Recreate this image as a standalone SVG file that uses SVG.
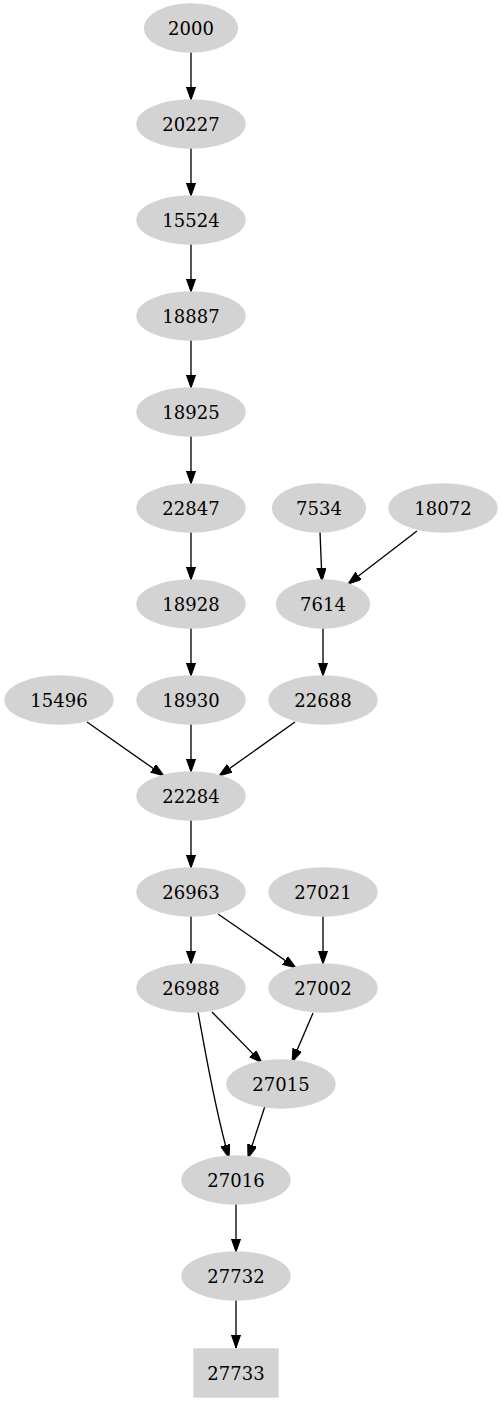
<svg xmlns="http://www.w3.org/2000/svg" width="502" height="1403" viewBox="0 0 502 1403">
<style>
.n ellipse,.n rect{fill:#d3d3d3;stroke:#d3d3d3;stroke-width:1.33}
.n text{font-family:"DejaVu Serif","Liberation Serif",serif;font-size:18px;fill:#000;text-anchor:middle}
.e path{fill:none;stroke:#000;stroke-width:1.33;marker-end:url(#ah)}
</style>
<defs>
<marker id="ah" markerUnits="userSpaceOnUse" markerWidth="14" markerHeight="10" refX="13.3" refY="4.67" orient="auto">
<path d="M0,0 L13.3,4.67 L0,9.33 z" fill="#000" stroke="#000" stroke-width="1"/>
</marker>
</defs>
<rect width="502" height="1403" fill="#fff"/>
<g id="edges" class="e">
<path d="M191,52 L191,100"/>
<path d="M191,148 L191,196"/>
<path d="M191,244 L191,292"/>
<path d="M191,340 L191,388"/>
<path d="M191,436 L191,484"/>
<path d="M191,532 L191,580"/>
<path d="M191,628 L191,676"/>
<path d="M191,724 L191,772"/>
<path d="M320,532 L322,581"/>
<path d="M417,531 L348,584"/>
<path d="M323,628 L323,676"/>
<path d="M87,722 L164,776"/>
<path d="M295,722 L219,776"/>
<path d="M191,820 L191,868"/>
<path d="M191,916 L191,964"/>
<path d="M218,914 L296,968"/>
<path d="M323,916 L323,964"/>
<path d="M212,1012 L262,1063"/>
<path d="M313,1013 L292,1062"/>
<path d="M198,1012 C205,1050 215,1110 229,1158"/>
<path d="M265,1106 L248,1158"/>
<path d="M236,1204 L236,1252"/>
<path d="M236,1300 L236,1348"/>
</g>
<g id="n2000" class="n"><ellipse cx="191" cy="28" rx="46.5" ry="24"/><text x="191" y="34.5">2000</text></g>
<g id="n20227" class="n"><ellipse cx="191" cy="124" rx="54" ry="24"/><text x="191" y="130.5">20227</text></g>
<g id="n15524" class="n"><ellipse cx="191" cy="220" rx="54" ry="24"/><text x="191" y="226.5">15524</text></g>
<g id="n18887" class="n"><ellipse cx="191" cy="316" rx="54" ry="24"/><text x="191" y="322.5">18887</text></g>
<g id="n18925" class="n"><ellipse cx="191" cy="412" rx="54" ry="24"/><text x="191" y="418.5">18925</text></g>
<g id="n22847" class="n"><ellipse cx="191" cy="508" rx="54" ry="24"/><text x="191" y="514.5">22847</text></g>
<g id="n7534" class="n"><ellipse cx="319" cy="508" rx="46.5" ry="24"/><text x="319" y="514.5">7534</text></g>
<g id="n18072" class="n"><ellipse cx="443" cy="508" rx="54" ry="24"/><text x="443" y="514.5">18072</text></g>
<g id="n18928" class="n"><ellipse cx="191" cy="604" rx="54" ry="24"/><text x="191" y="610.5">18928</text></g>
<g id="n7614" class="n"><ellipse cx="323" cy="604" rx="46.5" ry="24"/><text x="323" y="610.5">7614</text></g>
<g id="n15496" class="n"><ellipse cx="59" cy="700" rx="54" ry="24"/><text x="59" y="706.5">15496</text></g>
<g id="n18930" class="n"><ellipse cx="191" cy="700" rx="54" ry="24"/><text x="191" y="706.5">18930</text></g>
<g id="n22688" class="n"><ellipse cx="323" cy="700" rx="54" ry="24"/><text x="323" y="706.5">22688</text></g>
<g id="n22284" class="n"><ellipse cx="191" cy="796" rx="54" ry="24"/><text x="191" y="802.5">22284</text></g>
<g id="n26963" class="n"><ellipse cx="191" cy="892" rx="54" ry="24"/><text x="191" y="898.5">26963</text></g>
<g id="n27021" class="n"><ellipse cx="323" cy="892" rx="54" ry="24"/><text x="323" y="898.5">27021</text></g>
<g id="n26988" class="n"><ellipse cx="191" cy="988" rx="54" ry="24"/><text x="191" y="994.5">26988</text></g>
<g id="n27002" class="n"><ellipse cx="323" cy="988" rx="54" ry="24"/><text x="323" y="994.5">27002</text></g>
<g id="n27015" class="n"><ellipse cx="281" cy="1084" rx="54" ry="24"/><text x="281" y="1090.5">27015</text></g>
<g id="n27016" class="n"><ellipse cx="236" cy="1180" rx="54" ry="24"/><text x="236" y="1186.5">27016</text></g>
<g id="n27732" class="n"><ellipse cx="236" cy="1276" rx="54" ry="24"/><text x="236" y="1282.5">27732</text></g>
<g id="n27733" class="n"><rect x="194" y="1349" width="84" height="48"/><text x="236" y="1379.5">27733</text></g>
</svg>
